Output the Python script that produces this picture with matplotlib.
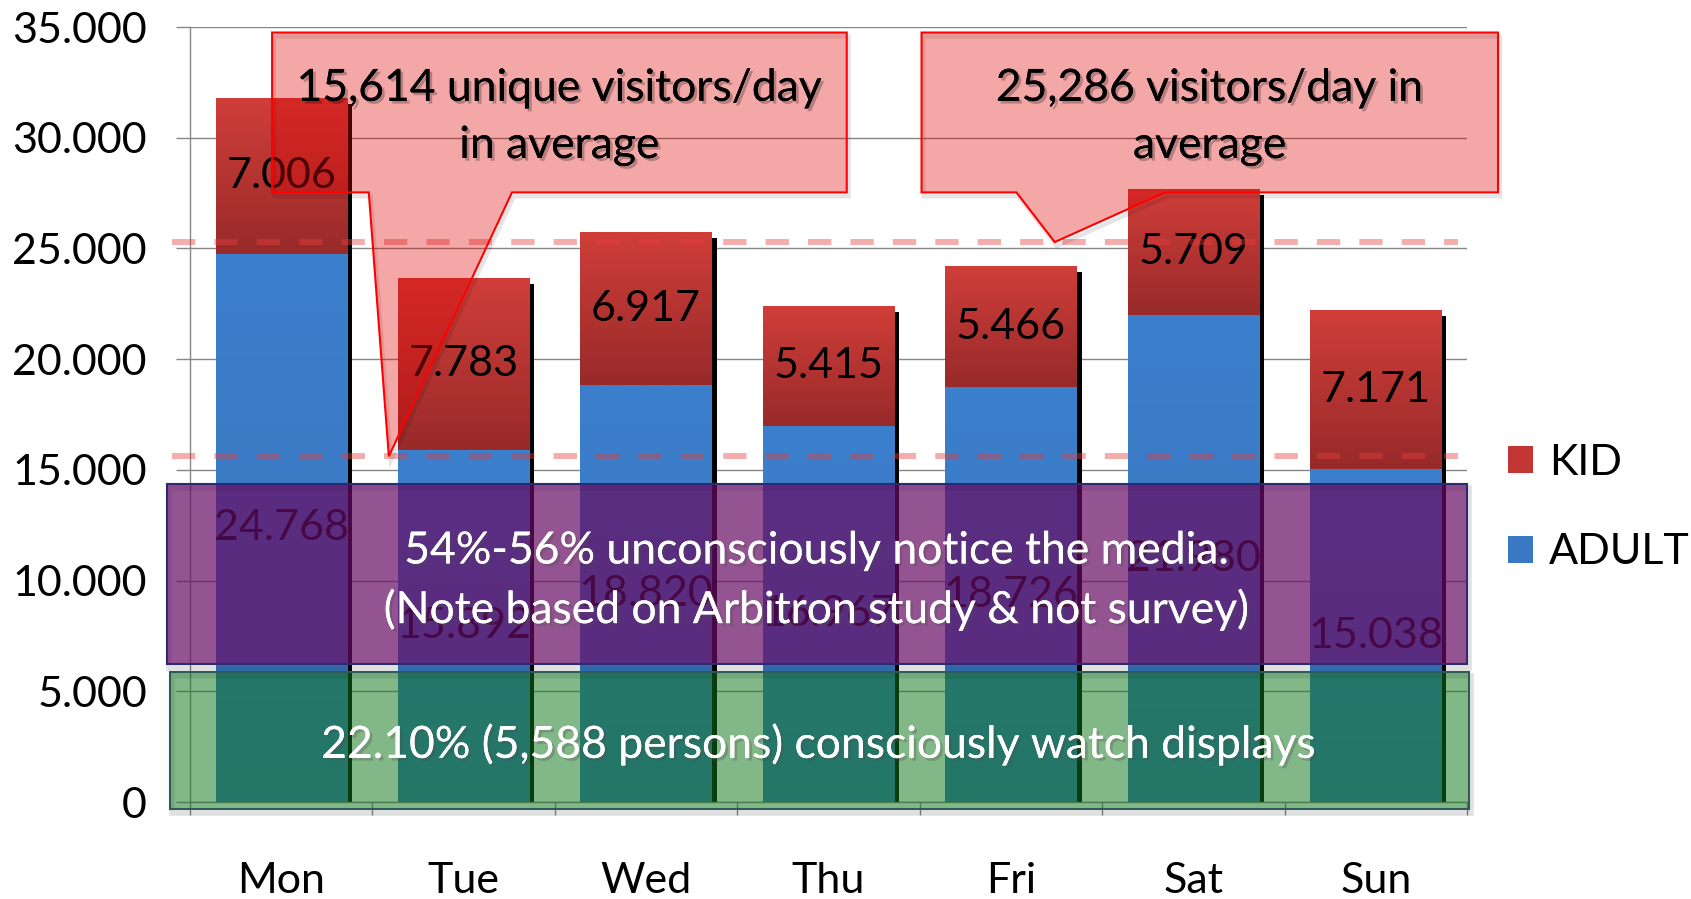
import numpy as np
import matplotlib
matplotlib.use("Agg")
import matplotlib.pyplot as plt
import matplotlib.patheffects as pe
import matplotlib.transforms as mtransforms
from matplotlib.patches import Polygon, Rectangle, Patch
from matplotlib.colors import LinearSegmentedColormap

plt.rcParams['font.family'] = ['Lato', 'DejaVu Sans']

# data
days = ["Mon", "Tue", "Wed", "Thu", "Fri", "Sat", "Sun"]
adult = [24768, 15892, 18820, 16967, 18726, 21980, 15038]
kid = [7006, 7783, 6917, 5415, 5466, 5709, 7171]
avg_unique = 15614
avg_visitors = 25286
yticks = [0, 5000, 10000, 15000, 20000, 25000, 30000, 35000]
legend_labels = ["KID", "ADULT"]
callout_unique = "15,614 unique visitors/day\nin average"
callout_visitors = "25,286 visitors/day in\naverage"
notice_text = "54%-56% unconsciously notice the media.\n(Note based on Arbitron study & not survey)"
watch_text = "22.10% (5,588 persons) consciously watch displays"

FS = 31          # ticks, labels, legend
FS_BOX = 32      # callout / overlay text
GRAY = "#868686"

fig = plt.figure(figsize=(16.91, 8.99), dpi=100)
ax = fig.add_axes([190 / 1691, 1 - 802 / 899, (1467 - 190) / 1691, (802 - 27) / 899])

x = np.arange(len(days))
w = 0.72
totals = [a + k for a, k in zip(adult, kid)]


def px(dx, dy):
    return mtransforms.ScaledTranslation(dx / 100, dy / 100, fig.dpi_scale_trans)


def gradient(patch, c_top, c_bot, z):
    x0, y0 = patch.get_xy()
    cmap = LinearSegmentedColormap.from_list("g", [c_bot, c_top])
    g = np.linspace(0, 1, 128).reshape(-1, 1)
    im = ax.imshow(g, cmap=cmap, extent=[x0, x0 + patch.get_width(), y0, y0 + patch.get_height()],
                   origin="lower", aspect="auto", zorder=z, interpolation="bilinear")
    im.set_clip_path(patch)


# bar shadows
shadow = ax.bar(x, totals, w, color="black", zorder=2)
for p in shadow:
    p.set_transform(ax.transData + px(5, -6))

bars_a = ax.bar(x, adult, w, color="#3b7dc9", zorder=3)
bars_k = ax.bar(x, kid, w, bottom=adult, color="#c83a36", zorder=3)
for p in bars_a:
    gradient(p, "#3c7fcc", "#3a74bc", 3)
for p in bars_k:
    gradient(p, "#d03e39", "#982a2a", 3)

for i in range(len(days)):
    ax.text(x[i], adult[i] / 2, f"{adult[i]:,}".replace(",", "."), ha="center", va="center",
            fontsize=FS, color="black", zorder=3.5)
    ax.text(x[i], adult[i] + kid[i] / 2, f"{kid[i]:,}".replace(",", "."), ha="center", va="center",
            fontsize=FS, color="black", zorder=3.5)

# average lines
for v in (avg_visitors, avg_unique):
    ax.plot([-0.6, 6.45], [v, v], color="#e63c3c", alpha=0.42, lw=4.3, dashes=(3.9, 3.2),
            solid_capstyle="butt", dash_capstyle="butt", zorder=4, clip_on=False)

# overlay boxes
boxes = [(-0.625, 6228, 6.5, 14351, "#670c63", 0.70, "#2b2a72", notice_text, -300),
         (-0.61, -316, 6.51, 5867, "#10781a", 0.52, "#2f5a5a", watch_text, -180)]
for x0, y0, x1, y1, fc, al, ec, txt, dy in boxes:
    sh = Rectangle((x0, y0), x1 - x0, y1 - y0, facecolor="none", edgecolor="black", alpha=0.12,
                   lw=4, zorder=4.8, clip_on=False)
    sh.set_transform(ax.transData + px(2, -4))
    ax.add_patch(sh)
    ax.add_patch(Rectangle((x0, y0), x1 - x0, y1 - y0, facecolor=fc, alpha=al, edgecolor="none",
                           zorder=5, clip_on=False))
    ax.add_patch(Rectangle((x0, y0), x1 - x0, y1 - y0, facecolor="none", edgecolor=ec, lw=1.5,
                           zorder=5.1, clip_on=False))
    ax.text((x0 + x1) / 2, (y0 + y1) / 2 + dy, txt, ha="center", va="center", fontsize=FS_BOX,
            color="white", linespacing=1.49, zorder=6,
            path_effects=[pe.withSimplePatchShadow(offset=(2, -2), alpha=0.3), pe.Normal()])

# callouts
callouts = [(-0.05, 3.10, 0.48, 1.265, 0.59, avg_unique, callout_unique),
            (3.51, 6.67, 4.03, 4.845, 4.24, avg_visitors, callout_visitors)]
ytop, ybot = 34750, 27530
for x0, x1, bl, br, tx, ty, txt in callouts:
    pts = [(x0, ytop), (x1, ytop), (x1, ybot), (br, ybot), (tx, ty), (bl, ybot), (x0, ybot)]
    sh = Polygon(pts, closed=True, facecolor="none", edgecolor="black", alpha=0.1, lw=3,
                 zorder=4.9, clip_on=False)
    sh.set_transform(ax.transData + px(2, -4))
    ax.add_patch(sh)
    ax.add_patch(Polygon(pts, closed=True, facecolor="#df0000", alpha=0.345, edgecolor="none",
                         zorder=5, clip_on=False))
    ax.add_patch(Polygon(pts, closed=True, facecolor="none", edgecolor="#ff0000", lw=1.5,
                         zorder=5.1, clip_on=False))
    ax.text((x0 + x1) / 2, (ytop + ybot) / 2 - 200, txt, ha="center", va="center", fontsize=FS_BOX,
            color="black", linespacing=1.49, zorder=6,
            path_effects=[pe.withSimplePatchShadow(offset=(2, -2), alpha=0.25), pe.Normal()])

# axes styling
ax.set_xlim(-0.5, 6.5)
ax.set_ylim(0, 35000)
ax.set_autoscale_on(False)
ax.set_yticks(yticks, ["0" if v == 0 else f"{v:,}".replace(",", ".") for v in yticks])
ax.set_xticks(x, days)
ax.set_xticks(np.arange(-0.5, 7, 1), minor=True)
ax.tick_params(axis="y", length=10, width=1, color=GRAY, pad=21, labelsize=FS)
ax.tick_params(axis="x", which="major", length=0, pad=43, labelsize=FS)
ax.tick_params(axis="x", which="minor", length=9, width=1, color=GRAY)
ax.yaxis.grid(True, color=GRAY, lw=1)
ax.set_axisbelow(True)
for s in ("top", "right"):
    ax.spines[s].set_visible(False)
for s in ("left", "bottom"):
    ax.spines[s].set_color(GRAY)
    ax.spines[s].set_linewidth(1)

handles = [Patch(facecolor="#c23733"), Patch(facecolor="#3a78c4")]
ax.legend(handles, legend_labels, loc="center left", bbox_to_anchor=((1508 - 190) / 1277, 0.38),
          frameon=False, fontsize=FS, handlelength=0.58, handleheight=0.58, handletextpad=0.38,
          labelspacing=1.2, borderpad=0, borderaxespad=0)

fig.savefig("out.png", dpi=100)
